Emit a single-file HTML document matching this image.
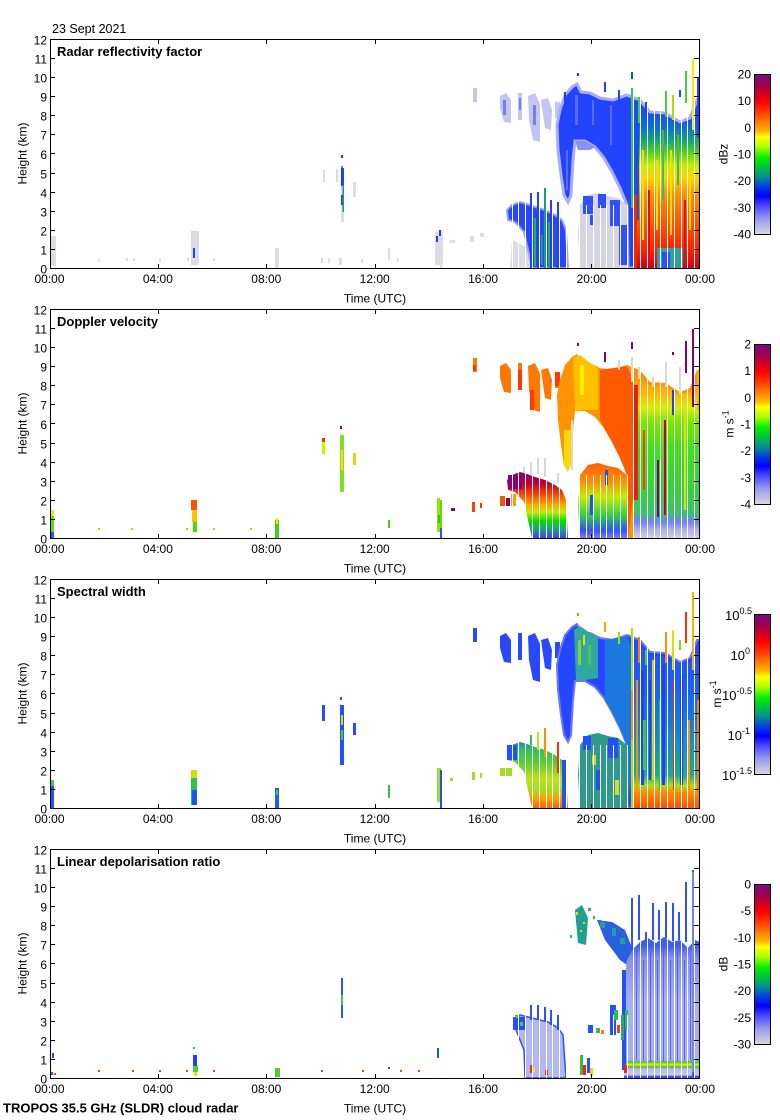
<!DOCTYPE html>
<html><head><meta charset="utf-8"><title>TROPOS cloud radar 23 Sept 2021</title>
<style>
html,body{margin:0;padding:0;background:#fff;width:780px;height:1120px;overflow:hidden}
svg{display:block}
text{font-family:"Liberation Sans",Arial,Helvetica,sans-serif;fill:#000}
.t{font-size:12px}
.b{font-size:13px;font-weight:bold}
</style></head><body>
<svg xmlns="http://www.w3.org/2000/svg" width="780" height="1120" viewBox="0 0 780 1120">
<defs>
<linearGradient id="cm" x1="0" y1="0" x2="0" y2="1">
<stop offset="0" stop-color="#7a0a80"/><stop offset="0.07" stop-color="#a00050"/><stop offset="0.12" stop-color="#d00020"/><stop offset="0.17" stop-color="#ff0000"/><stop offset="0.24" stop-color="#ff4000"/><stop offset="0.30" stop-color="#ff8000"/><stop offset="0.35" stop-color="#ffb000"/><stop offset="0.39" stop-color="#ffff00"/><stop offset="0.45" stop-color="#b0ff00"/><stop offset="0.52" stop-color="#00f000"/><stop offset="0.58" stop-color="#00c040"/><stop offset="0.64" stop-color="#009090"/><stop offset="0.70" stop-color="#0040e0"/><stop offset="0.76" stop-color="#0000ff"/><stop offset="0.82" stop-color="#4848ff"/><stop offset="0.90" stop-color="#9898f0"/><stop offset="1" stop-color="#d8d8e0"/>
</linearGradient>
<linearGradient id="g1" gradientUnits="userSpaceOnUse" x1="0" y1="105" x2="0" y2="268">
<stop offset="0" stop-color="#2040ff"/><stop offset="0.14" stop-color="#1070d0"/><stop offset="0.21" stop-color="#10a080"/><stop offset="0.29" stop-color="#50d020"/><stop offset="0.37" stop-color="#c0f000"/><stop offset="0.45" stop-color="#ffd000"/><stop offset="0.55" stop-color="#ff9000"/><stop offset="0.74" stop-color="#ff5000"/><stop offset="0.89" stop-color="#ff2000"/><stop offset="1" stop-color="#d00020"/>
</linearGradient>
<linearGradient id="g2" gradientUnits="userSpaceOnUse" x1="0" y1="105" x2="0" y2="268">
<stop offset="0" stop-color="#ff9000"/><stop offset="0.12" stop-color="#ffb800"/><stop offset="0.2" stop-color="#d8f000"/><stop offset="0.28" stop-color="#80e800"/><stop offset="0.45" stop-color="#40e020"/><stop offset="0.7" stop-color="#38d040"/><stop offset="0.85" stop-color="#40c070"/><stop offset="0.9" stop-color="#7080ff"/><stop offset="0.95" stop-color="#b0b0e8"/><stop offset="1" stop-color="#d0d0e0"/>
</linearGradient>
<linearGradient id="g2l" gradientUnits="userSpaceOnUse" x1="0" y1="200" x2="0" y2="268">
<stop offset="0" stop-color="#800080"/><stop offset="0.2" stop-color="#c00030"/><stop offset="0.35" stop-color="#ff4000"/><stop offset="0.5" stop-color="#ffa000"/><stop offset="0.62" stop-color="#c0f000"/><stop offset="0.75" stop-color="#00e000"/><stop offset="0.87" stop-color="#20a080"/><stop offset="1" stop-color="#4040ff"/>
</linearGradient>
<linearGradient id="g2m" gradientUnits="userSpaceOnUse" x1="0" y1="193" x2="0" y2="268">
<stop offset="0" stop-color="#ff6000"/><stop offset="0.25" stop-color="#ff9000"/><stop offset="0.45" stop-color="#c0f000"/><stop offset="0.7" stop-color="#30d040"/><stop offset="0.9" stop-color="#3050ff"/><stop offset="1" stop-color="#8080f0"/>
</linearGradient>
<linearGradient id="g3" gradientUnits="userSpaceOnUse" x1="0" y1="105" x2="0" y2="268">
<stop offset="0" stop-color="#2050ff"/><stop offset="0.25" stop-color="#1c60f0"/><stop offset="0.45" stop-color="#1478e0"/><stop offset="0.62" stop-color="#1890c0"/><stop offset="0.8" stop-color="#20a890"/><stop offset="0.86" stop-color="#a0e020"/><stop offset="0.9" stop-color="#ff9000"/><stop offset="1" stop-color="#ff5000"/>
</linearGradient>
<linearGradient id="g3l" gradientUnits="userSpaceOnUse" x1="0" y1="195" x2="0" y2="268">
<stop offset="0" stop-color="#2050ff"/><stop offset="0.2" stop-color="#30c060"/><stop offset="0.4" stop-color="#60d030"/><stop offset="0.6" stop-color="#c0e020"/><stop offset="0.75" stop-color="#a0e020"/><stop offset="0.87" stop-color="#ffa000"/><stop offset="1" stop-color="#ff6000"/>
</linearGradient>
<linearGradient id="g4" gradientUnits="userSpaceOnUse" x1="0" y1="118" x2="0" y2="268">
<stop offset="0" stop-color="#3050f0"/><stop offset="0.12" stop-color="#4060f0"/><stop offset="0.2" stop-color="#8890f0"/><stop offset="0.5" stop-color="#a8b0f2"/><stop offset="0.88" stop-color="#a8b0f0"/><stop offset="0.893" stop-color="#40c040"/><stop offset="0.91" stop-color="#f0f000"/><stop offset="0.927" stop-color="#40c040"/><stop offset="0.94" stop-color="#b8bcf0"/><stop offset="0.98" stop-color="#c8c8ee"/><stop offset="0.99" stop-color="#3050ff"/><stop offset="1" stop-color="#3050ff"/>
</linearGradient>
<clipPath id="clip"><rect x="51" y="40" width="648" height="228"/></clipPath>
<g id="strk">
<rect x="473" y="88" width="4" height="14"/>
<polygon points="500,96 506,93 511,100 511,123 504,122 500,108"/>
<rect x="518" y="93" width="4" height="27"/>
<polygon points="528,96 535,93 540,104 540,142 533,140 529,120"/>
<polygon points="541,100 548,98 552,110 551,130 545,128"/>
<rect x="555" y="102" width="5" height="16"/>
</g>
<polygon id="upc" points="557,125 560,110 565,95 572,87 577,84 581,92 590,93 600,98 613,100 627,95 640,100 650,112 665,113 680,122 690,118 697,100 700,100 700,268 628,268 627,205 620,188 612,172 604,158 595,147 585,141 575,141 573,160 571,195 568,202 564,195 561,175 558,150"/>
<polygon id="blk" points="633,112 640,106 650,115 665,117 680,124 690,122 697,112 700,112 700,268 633,268"/>
<polygon id="low1" points="507,210 512,205 520,202 527,204 535,207 545,210 555,215 562,220 566,230 568,268 532,268 528,250 524,232 515,222 508,220"/>
<polygon id="low2" points="580,205 588,195 598,193 608,196 618,198 627,205 628,268 580,268 578,235"/>
<polygon id="b4" points="624,175 627,150 632,140 640,132 648,128 656,133 664,127 672,132 680,130 688,138 695,130 700,132 700,268 624,268"/>
<polygon id="l4" points="513,212 520,205 528,207 540,210 548,212 558,218 563,225 566,268 525,268 524,240 518,225"/>
<g id="gaps" fill="#fff">
<rect x="498" y="185" width="1" height="83"/><rect x="505" y="185" width="1" height="83"/><rect x="512" y="185" width="1" height="83"/><rect x="518" y="185" width="1" height="83"/><rect x="525" y="185" width="1" height="83"/><rect x="532" y="205" width="1" height="63"/><rect x="539" y="205" width="1" height="63"/><rect x="546" y="205" width="1" height="63"/><rect x="552" y="205" width="1" height="63"/><rect x="559" y="205" width="1" height="63"/><rect x="566" y="205" width="1" height="63"/><rect x="573" y="205" width="1" height="63"/><rect x="579" y="205" width="1" height="63"/><rect x="586" y="205" width="1" height="63"/><rect x="593" y="205" width="1" height="63"/><rect x="600" y="205" width="1" height="63"/><rect x="606" y="205" width="1" height="63"/><rect x="613" y="205" width="1" height="63"/><rect x="620" y="205" width="1" height="63"/><rect x="627" y="205" width="1" height="63"/><rect x="633" y="40" width="1" height="228"/><rect x="640" y="40" width="1" height="228"/><rect x="647" y="40" width="1" height="228"/><rect x="654" y="40" width="1" height="228"/><rect x="660" y="40" width="1" height="228"/><rect x="667" y="40" width="1" height="228"/><rect x="674" y="40" width="1" height="228"/><rect x="681" y="40" width="1" height="228"/><rect x="687" y="40" width="1" height="228"/><rect x="694" y="40" width="1" height="228"/>
</g>
<g id="ax" fill="none" stroke="#000" stroke-width="1">
<rect x="50.5" y="39.5" width="649" height="229"/>
<path d="M51 249.5h4M51 230.5h4M51 211.5h4M51 192.5h4M51 173.5h4M51 153.5h4M51 134.5h4M51 115.5h4M51 96.5h4M51 77.5h4M51 58.5h4M699 249.5h-5M699 230.5h-5M699 211.5h-5M699 192.5h-5M699 173.5h-5M699 153.5h-5M699 134.5h-5M699 115.5h-5M699 96.5h-5M699 77.5h-5M699 58.5h-5M158.5 40v4M266.5 40v4M375.5 40v4M483.5 40v4M591.5 40v4M158.5 268v-4M266.5 268v-4M375.5 268v-4M483.5 268v-4M591.5 268v-4"/>
</g>
</defs>

<text class="t" x="52" y="33" style="font-size:12.5px">23 Sept 2021</text>

<!-- ================= PANEL 1: Reflectivity ================= -->
<g>
<g clip-path="url(#clip)">
<use href="#strk" fill="#c2c6f0"/>
<g fill="#7080f8"><rect x="503" y="100" width="3" height="15"/><rect x="533" y="105" width="3" height="20"/><rect x="519" y="98" width="2" height="12"/></g>
<use href="#upc" fill="#2244ff" stroke="#a8aef4" stroke-width="3"/>
<polygon points="575,141 585,141 595,147 590,150 578,150" fill="#8890f4"/>
<g fill="#5a6cfa"><rect x="575" y="95" width="3" height="30"/><rect x="592" y="100" width="2" height="25"/><rect x="610" y="105" width="2" height="40"/><rect x="566" y="150" width="2" height="40"/></g>
<use href="#blk" fill="url(#g1)"/>
<g fill="#f0e000"><rect x="642" y="150" width="2" height="90"/><rect x="656" y="160" width="2" height="70"/><rect x="670" y="150" width="2" height="85"/><rect x="689" y="170" width="2" height="60"/></g>
<g fill="#40c040"><rect x="662" y="130" width="2" height="70"/><rect x="677" y="135" width="2" height="50"/></g>
<g fill="#e01010"><rect x="648" y="190" width="2" height="70"/><rect x="684" y="200" width="2" height="60"/></g>
<rect x="633" y="110" width="6" height="110" fill="#1a50e8"/>
<rect x="633" y="195" width="4" height="73" fill="#e03010"/>
<rect x="697" y="77" width="3" height="60" fill="#2244ff"/>
<rect x="657" y="248" width="26" height="20" fill="#30a0a0"/>
<rect x="662" y="252" width="8" height="16" fill="#2a50ff"/>
<use href="#low2" fill="#d6d6e0"/>
<g fill="#3050ff"><rect x="583" y="196" width="10" height="18"/><rect x="598" y="194" width="8" height="14"/><rect x="610" y="200" width="10" height="26"/><rect x="590" y="215" width="4" height="10"/><rect x="619" y="225" width="8" height="40"/></g>
<polygon points="512,240 528,248 531,268 510,268" fill="#dcdce4"/>
<use href="#low1" fill="#2646ff" stroke="#9aa2f4" stroke-width="2"/>
<g fill="#20b060"><rect x="534" y="218" width="2" height="48"/><rect x="548" y="222" width="2" height="46"/><rect x="541" y="235" width="1.5" height="30"/></g>
<g fill="#dcdce4"><rect x="51" y="236" width="5" height="30"/><rect x="191" y="231" width="8" height="34"/><rect x="275" y="248" width="4" height="20"/><rect x="323" y="170" width="2" height="12"/><rect x="336" y="169" width="2" height="13"/><rect x="341" y="185" width="3" height="37"/><rect x="353" y="182" width="3" height="15"/><rect x="388" y="248" width="2" height="12"/><rect x="397" y="258" width="2" height="4"/><rect x="435" y="232" width="8" height="33"/><rect x="450" y="240" width="5" height="3"/><rect x="440" y="230" width="2" height="38"/><rect x="470" y="236" width="4" height="6"/><rect x="480" y="233" width="4" height="4"/><rect x="98" y="259" width="2" height="3"/><rect x="126" y="258" width="2" height="3"/><rect x="133" y="258" width="2" height="3"/><rect x="159" y="259" width="2" height="3"/><rect x="187" y="258" width="2" height="3"/><rect x="213" y="258" width="2" height="3"/><rect x="321" y="258" width="2" height="5"/><rect x="328" y="258" width="2" height="5"/><rect x="339" y="258" width="3" height="7"/><rect x="361" y="259" width="2" height="4"/></g>
<g fill="#2040ff"><rect x="193" y="248" width="2" height="10"/><rect x="341" y="155" width="2" height="3"/><rect x="341" y="168" width="3" height="18"/><rect x="341" y="195" width="2" height="10"/><rect x="436" y="236" width="2" height="6"/><rect x="439" y="230" width="2" height="6"/></g>
<rect x="342.5" y="185" width="1.5" height="27" fill="#10a080"/>
<rect x="341" y="166" width="2" height="2" fill="#20c040"/>
<!-- spikes -->
<rect x="631" y="88" width="2" height="120" fill="#30c850"/><rect x="631" y="72" width="2" height="7" fill="#2040ff"/>
<rect x="638" y="97" width="2" height="26" fill="#40d040"/>
<rect x="645" y="102" width="2" height="15" fill="#2040ff"/>
<rect x="665" y="91" width="2" height="26" fill="#40d040"/>
<rect x="672" y="95" width="2" height="25" fill="#b0e000"/>
<rect x="679" y="90" width="2" height="7" fill="#2040ff"/>
<rect x="685" y="71" width="2" height="32" fill="#40d040"/>
<rect x="692" y="59" width="2" height="71" fill="#f0f000"/>
<g fill="#2040ff"><rect x="530" y="193" width="2" height="75"/><rect x="537" y="192" width="2" height="76"/><rect x="550" y="200" width="2" height="68"/><rect x="557" y="202" width="2" height="66"/><rect x="564" y="92" width="2" height="15"/><rect x="604" y="82" width="2" height="10"/><rect x="618" y="90" width="2" height="10"/><rect x="577" y="73" width="2" height="3"/></g>
<rect x="544" y="188" width="2" height="80" fill="#10a080"/>
<use href="#gaps"/>
</g>
<use href="#ax"/>
</g>
<text class="b" x="57" y="56">Radar reflectivity factor</text>
<g class="t" text-anchor="end">
<text x="47" y="273.5">0</text><text x="47" y="254.5">1</text><text x="47" y="235.5">2</text><text x="47" y="216.5">3</text><text x="47" y="197.5">4</text><text x="47" y="178.5">5</text><text x="47" y="159">6</text><text x="47" y="139.5">7</text><text x="47" y="120.5">8</text><text x="47" y="101.5">9</text><text x="47" y="82.5">10</text><text x="47" y="63.5">11</text><text x="47" y="44.5">12</text>
</g>
<g class="t" text-anchor="middle">
<text x="49.5" y="283">00:00</text><text x="157.9" y="283">04:00</text><text x="266.3" y="283">08:00</text><text x="374.7" y="283">12:00</text><text x="483.1" y="283">16:00</text><text x="591.6" y="283">20:00</text><text x="700" y="283">00:00</text>
<text x="375" y="302.5">Time (UTC)</text>
<text transform="translate(26.5,153.5) rotate(-90)">Height (km)</text>
<text transform="translate(727.5,154) rotate(-90)">dBz</text>
</g>
<rect x="754.5" y="74.5" width="16" height="160" fill="url(#cm)" stroke="#000"/>
<g class="t" text-anchor="end">
<text x="751" y="78.5">20</text><text x="751" y="105.2">10</text><text x="751" y="131.8">0</text><text x="751" y="158.5">-10</text><text x="751" y="185.2">-20</text><text x="751" y="211.8">-30</text><text x="751" y="238.5">-40</text>
</g>

<!-- ================= PANEL 2: Doppler ================= -->
<g transform="translate(0,270)">
<g clip-path="url(#clip)">
<use href="#strk" fill="#ff7800"/>
<g fill="#ff3a00"><rect x="518" y="100" width="4" height="20"/><rect x="530" y="120" width="4" height="20"/><rect x="555" y="102" width="5" height="14"/><rect x="473" y="95" width="3" height="6"/></g>
<use href="#upc" fill="#ff9400"/>
<polygon points="573,88 580,85 590,93 598,98 598,140 585,140 575,141" fill="#ffc000"/>
<rect x="580" y="95" width="4" height="30" fill="#f0f000"/>
<polygon points="564,160 572,160 571,195 568,202 564,195" fill="#ffd800"/>
<polygon points="600,100 627,96 633,110 633,230 628,268 627,205 620,188 612,172 604,158 600,150" fill="#ff5a00"/>
<use href="#blk" fill="url(#g2)"/>
<rect x="633" y="115" width="5" height="115" fill="#e02020"/>
<rect x="657" y="190" width="2" height="57" fill="#800080"/>
<rect x="664" y="150" width="2" height="95" fill="#c00030"/>
<rect x="672" y="120" width="2" height="25" fill="#2040ff"/>
<rect x="643" y="160" width="2" height="60" fill="#ff4000"/>
<rect x="684" y="140" width="2" height="100" fill="#c8f000"/>
<rect x="697" y="100" width="3" height="40" fill="#ffb000"/>
<use href="#low2" fill="url(#g2m)"/>
<g fill="#2050ff"><rect x="590" y="225" width="4" height="20"/><rect x="605" y="200" width="3" height="15"/></g>
<use href="#low1" fill="url(#g2l)"/>
<rect x="508" y="205" width="14" height="14" fill="#8a0070"/>
<rect x="500" y="226" width="6" height="10" fill="#ff5000"/><rect x="506" y="228" width="4" height="8" fill="#900060"/><rect x="511" y="224" width="5" height="12" fill="#ffa000"/>
<g fill="#d8d8d8"><rect x="631" y="87" width="2" height="25"/><rect x="618" y="90" width="2" height="10"/><rect x="638" y="97" width="2" height="12"/><rect x="652" y="107" width="2" height="10"/><rect x="665" y="92" width="2" height="25"/><rect x="679" y="97" width="2" height="27"/><rect x="571" y="150" width="2" height="50"/><rect x="523" y="197" width="2" height="6"/><rect x="530" y="192" width="2" height="13"/><rect x="537" y="188" width="2" height="16"/><rect x="544" y="188" width="2" height="19"/><rect x="557" y="203" width="2" height="10"/></g>
<g fill="#800080"><rect x="631" y="72" width="2" height="7"/><rect x="604" y="82" width="2" height="10"/><rect x="577" y="73" width="2" height="3"/><rect x="685" y="71" width="2" height="32"/><rect x="692" y="59" width="2" height="78"/><rect x="672" y="82" width="2" height="3"/></g>
<rect x="51" y="240" width="3" height="28" fill="#60e000"/><rect x="51" y="240" width="3" height="6" fill="#ffe000"/><rect x="51" y="262" width="3" height="6" fill="#3050ff"/>
<rect x="191" y="230" width="6" height="10" fill="#ff5000"/><rect x="192" y="240" width="5" height="12" fill="#ffc000"/><rect x="193" y="252" width="4" height="10" fill="#40e000"/>
<rect x="275" y="250" width="4" height="18" fill="#40d020"/><rect x="276" y="248" width="2" height="6" fill="#ffe000"/>
<rect x="340" y="156" width="2" height="3" fill="#a00060"/><rect x="340" y="165" width="4" height="57" fill="#80e020"/><rect x="341" y="180" width="2" height="20" fill="#ffe000"/>
<rect x="322" y="168" width="3" height="16" fill="#d0f000"/><rect x="322" y="168" width="3" height="4" fill="#ff3000"/>
<rect x="353" y="183" width="3" height="12" fill="#ffd000"/>
<rect x="388" y="250" width="2" height="8" fill="#40d020"/>
<rect x="437" y="228" width="3" height="34" fill="#a0e000"/><rect x="438" y="245" width="2" height="8" fill="#30c040"/>
<rect x="440" y="230" width="2" height="38" fill="#60e000"/><rect x="440" y="258" width="2" height="10" fill="#3050ff"/>
<rect x="451" y="238" width="4" height="3" fill="#800080"/>
<rect x="472" y="232" width="3" height="10" fill="#ff4000"/><rect x="480" y="233" width="2" height="5" fill="#ff3000"/>
<g fill="#ffb000"><rect x="98" y="258" width="2" height="2"/><rect x="131" y="258" width="2" height="2"/><rect x="186" y="258" width="2" height="2"/><rect x="213" y="258" width="2" height="2"/><rect x="250" y="258" width="2" height="2"/></g>
<use href="#gaps"/>
</g>
<use href="#ax"/>
</g>
<text class="b" x="57" y="326">Doppler velocity</text>
<g class="t" text-anchor="end">
<text x="47" y="543.5">0</text><text x="47" y="524.5">1</text><text x="47" y="505.5">2</text><text x="47" y="486.5">3</text><text x="47" y="467.5">4</text><text x="47" y="448.5">5</text><text x="47" y="429">6</text><text x="47" y="409.5">7</text><text x="47" y="390.5">8</text><text x="47" y="371.5">9</text><text x="47" y="352.5">10</text><text x="47" y="333.5">11</text><text x="47" y="314.5">12</text>
</g>
<g class="t" text-anchor="middle">
<text x="49.5" y="553">00:00</text><text x="157.9" y="553">04:00</text><text x="266.3" y="553">08:00</text><text x="374.7" y="553">12:00</text><text x="483.1" y="553">16:00</text><text x="591.6" y="553">20:00</text><text x="700" y="553">00:00</text>
<text x="375" y="572.5">Time (UTC)</text>
<text transform="translate(26.5,423.5) rotate(-90)">Height (km)</text>
<text transform="translate(733.5,424) rotate(-90)">m s<tspan font-size="9" dy="-5">-1</tspan></text>
</g>
<rect x="754.5" y="344.5" width="16" height="160" fill="url(#cm)" stroke="#000"/>
<g class="t" text-anchor="end">
<text x="751" y="348.5">2</text><text x="751" y="375.2">1</text><text x="751" y="401.8">0</text><text x="751" y="428.5">-1</text><text x="751" y="455.2">-2</text><text x="751" y="481.8">-3</text><text x="751" y="508.5">-4</text>
</g>

<!-- ================= PANEL 3: Spectral width ================= -->
<g transform="translate(0,540)">
<g clip-path="url(#clip)">
<use href="#strk" fill="#2a48ff"/>
<use href="#upc" fill="#2448ff" stroke="#6a78f8" stroke-width="2"/>
<polygon points="574,90 580,86 590,93 598,98 598,138 585,140 576,141" fill="#30a8a0"/>
<rect x="578" y="100" width="3" height="25" fill="#80d040"/><rect x="588" y="105" width="3" height="20" fill="#50c050"/><rect x="583" y="95" width="2" height="10" fill="#e0e000"/>
<polygon points="605,100 627,96 632,110 632,230 628,268 627,205 620,188 612,172 605,160" fill="#1a78e0"/>
<use href="#blk" fill="url(#g3)"/>
<g fill="#2040ff"><rect x="641" y="130" width="3" height="115"/><rect x="649" y="140" width="2" height="100"/><rect x="662" y="125" width="3" height="120"/><rect x="680" y="135" width="3" height="110"/></g>
<rect x="636" y="140" width="2" height="110" fill="#ff9000"/>
<rect x="652" y="120" width="2" height="120" fill="#e0d000"/>
<rect x="659" y="160" width="2" height="90" fill="#30c040"/>
<rect x="673" y="140" width="2" height="110" fill="#ff3000"/>
<rect x="688" y="180" width="2" height="70" fill="#ff9000"/>
<rect x="697" y="160" width="2" height="90" fill="#ff8000"/>
<rect x="643" y="180" width="3" height="50" fill="#40c060"/>
<use href="#low2" fill="#2f9a8a"/>
<g fill="#2050ff"><rect x="583" y="196" width="8" height="14"/><rect x="608" y="198" width="10" height="20"/><rect x="596" y="230" width="5" height="20"/></g>
<g fill="#d0e020"><rect x="592" y="215" width="4" height="10"/><rect x="615" y="240" width="4" height="15"/></g>
<use href="#low1" fill="url(#g3l)"/>
<rect x="507" y="205" width="10" height="15" fill="#2050ff"/><rect x="562" y="220" width="5" height="48" fill="#2050ff"/>
<rect x="631" y="88" width="2" height="180" fill="#b0e000"/><rect x="631" y="150" width="2" height="50" fill="#ff9000"/>
<rect x="692" y="52" width="2" height="78" fill="#ffb000"/>
<rect x="685" y="72" width="2" height="31" fill="#ff3000"/>
<rect x="665" y="92" width="2" height="31" fill="#ff9000"/>
<rect x="672" y="90" width="2" height="40" fill="#e0e000"/>
<rect x="679" y="100" width="2" height="10" fill="#80e000"/>
<rect x="638" y="97" width="2" height="26" fill="#ff8000"/>
<rect x="645" y="110" width="2" height="15" fill="#40d040"/>
<rect x="618" y="92" width="2" height="12" fill="#a0e000"/>
<rect x="604" y="82" width="2" height="10" fill="#ffa000"/>
<rect x="577" y="73" width="2" height="3" fill="#ff8000"/>
<rect x="537" y="192" width="2" height="18" fill="#c0e020"/><rect x="544" y="188" width="2" height="29" fill="#ff9000"/><rect x="557" y="202" width="2" height="31" fill="#ff3000"/><rect x="530" y="195" width="2" height="10" fill="#40c040"/>
<rect x="51" y="240" width="3" height="28" fill="#2050ff"/><rect x="51" y="240" width="3" height="6" fill="#40d040"/>
<rect x="191" y="230" width="6" height="35" fill="#30c050"/><rect x="191" y="230" width="6" height="8" fill="#d0e000"/><rect x="192" y="250" width="5" height="15" fill="#2050ff"/>
<rect x="275" y="248" width="4" height="20" fill="#2060f0"/><rect x="276" y="250" width="2" height="5" fill="#40d040"/>
<rect x="340" y="157" width="2" height="3" fill="#2050ff"/><rect x="340" y="165" width="4" height="60" fill="#2050ff"/><rect x="341" y="175" width="2" height="10" fill="#e0e000"/><rect x="341" y="190" width="2" height="10" fill="#40d040"/>
<rect x="322" y="165" width="3" height="16" fill="#2050ff"/><rect x="353" y="183" width="3" height="12" fill="#2050ff"/>
<rect x="388" y="245" width="2" height="13" fill="#30c050"/>
<rect x="437" y="228" width="4" height="34" fill="#a0e020"/><rect x="440" y="230" width="2" height="38" fill="#2050ff"/>
<g fill="#a0e020"><rect x="450" y="238" width="3" height="3"/><rect x="472" y="232" width="3" height="8"/><rect x="480" y="233" width="2" height="5"/><rect x="500" y="228" width="12" height="8"/></g>
<use href="#gaps"/>
</g>
<use href="#ax"/>
</g>
<text class="b" x="57" y="596">Spectral width</text>
<g class="t" text-anchor="end">
<text x="47" y="813.5">0</text><text x="47" y="794.5">1</text><text x="47" y="775.5">2</text><text x="47" y="756.5">3</text><text x="47" y="737.5">4</text><text x="47" y="718.5">5</text><text x="47" y="699">6</text><text x="47" y="679.5">7</text><text x="47" y="660.5">8</text><text x="47" y="641.5">9</text><text x="47" y="622.5">10</text><text x="47" y="603.5">11</text><text x="47" y="584.5">12</text>
</g>
<g class="t" text-anchor="middle">
<text x="49.5" y="823">00:00</text><text x="157.9" y="823">04:00</text><text x="266.3" y="823">08:00</text><text x="374.7" y="823">12:00</text><text x="483.1" y="823">16:00</text><text x="591.6" y="823">20:00</text><text x="700" y="823">00:00</text>
<text x="375" y="842.5">Time (UTC)</text>
<text transform="translate(26.5,693.5) rotate(-90)">Height (km)</text>
<text transform="translate(721,694) rotate(-90)">m s<tspan font-size="9" dy="-5">-1</tspan></text>
</g>
<rect x="754.5" y="614.5" width="16" height="160" fill="url(#cm)" stroke="#000"/>
<g class="t" text-anchor="end" style="font-size:13px">
<text x="752" y="620">10<tspan font-size="9" dy="-6">0.5</tspan></text>
<text x="750" y="660">10<tspan font-size="9" dy="-6">0</tspan></text>
<text x="752" y="700">10<tspan font-size="9" dy="-6">-0.5</tspan></text>
<text x="750" y="740">10<tspan font-size="9" dy="-6">-1</tspan></text>
<text x="752" y="780">10<tspan font-size="9" dy="-6">-1.5</tspan></text>
</g>

<!-- ================= PANEL 4: LDR ================= -->
<g transform="translate(0,810)">
<g clip-path="url(#clip)">
<polygon points="575,100 582,95 588,108 586,135 578,133" fill="#20a090"/>
<g fill="#e0e000"><rect x="576" y="102" width="2" height="3"/><rect x="583" y="112" width="2" height="2"/><rect x="580" y="120" width="2" height="2"/></g>
<g fill="#30c050"><rect x="588" y="98" width="3" height="3"/><rect x="593" y="106" width="2" height="3"/><rect x="598" y="110" width="3" height="2"/><rect x="570" y="125" width="2" height="3"/></g>
<polygon points="597,110 612,112 625,120 633,140 630,157 620,150 605,130" fill="#2860e0"/>
<g fill="#20a0a0"><rect x="600" y="112" width="5" height="6"/><rect x="612" y="118" width="4" height="8"/><rect x="620" y="128" width="5" height="6"/></g>
<use href="#b4" fill="url(#g4)"/>
<g fill="#5068f0"><rect x="636" y="140" width="1" height="110"/><rect x="643" y="150" width="1" height="100"/><rect x="650" y="140" width="1" height="112"/><rect x="657" y="150" width="1" height="100"/><rect x="663" y="140" width="1" height="112"/><rect x="670" y="150" width="1" height="100"/><rect x="677" y="140" width="1" height="112"/><rect x="684" y="150" width="1" height="100"/><rect x="690" y="145" width="1" height="105"/></g>
<g fill="#3050ff"><rect x="631" y="88" width="2" height="52"/><rect x="638" y="85" width="2" height="45"/><rect x="645" y="122" width="2" height="10"/><rect x="652" y="93" width="2" height="37"/><rect x="658" y="100" width="2" height="30"/><rect x="665" y="92" width="2" height="36"/><rect x="672" y="93" width="2" height="38"/><rect x="678" y="102" width="2" height="28"/><rect x="685" y="72" width="2" height="60"/><rect x="692" y="60" width="2" height="208"/></g>
<rect x="692.5" y="62" width="1" height="200" fill="#b0b8f0"/>
<rect x="622" y="160" width="4" height="100" fill="#2050ff"/><rect x="625" y="200" width="3" height="20" fill="#30c040"/><rect x="624" y="255" width="3" height="8" fill="#ff2000"/>
<use href="#l4" fill="#b4b8f2" stroke="#3050ff" stroke-width="1.5"/>
<rect x="513" y="207" width="12" height="13" fill="#2050ff"/><rect x="515" y="205" width="3" height="3" fill="#40d040"/><rect x="520" y="212" width="3" height="4" fill="#40d040"/>
<g fill="#3050ff"><rect x="530" y="195" width="2" height="15"/><rect x="537" y="195" width="2" height="15"/><rect x="544" y="197" width="2" height="15"/><rect x="550" y="200" width="2" height="15"/><rect x="557" y="205" width="2" height="15"/></g>
<rect x="530" y="255" width="3" height="8" fill="#ff3000"/><rect x="533" y="258" width="2" height="4" fill="#ffe000"/><rect x="545" y="260" width="3" height="5" fill="#ff3000"/>
<rect x="580" y="245" width="3" height="20" fill="#30c040"/><rect x="583" y="255" width="3" height="10" fill="#ff2000"/><rect x="587" y="248" width="3" height="15" fill="#2050ff"/><rect x="590" y="258" width="3" height="8" fill="#ffd000"/>
<rect x="588" y="215" width="6" height="8" fill="#2050ff"/><rect x="596" y="218" width="4" height="5" fill="#30c050"/><rect x="600" y="220" width="4" height="4" fill="#ff8000"/>
<rect x="610" y="195" width="6" height="30" fill="#2050ff"/><rect x="614" y="200" width="4" height="10" fill="#30c040"/><rect x="617" y="215" width="3" height="8" fill="#ff4000"/><rect x="620" y="205" width="4" height="25" fill="#30a080"/>
<rect x="52" y="243" width="2" height="5" fill="#2050ff"/><rect x="51" y="262" width="2" height="3" fill="#2050ff"/><rect x="54" y="263" width="2" height="2" fill="#ff4000"/>
<rect x="193" y="245" width="4" height="11" fill="#2040ff"/><rect x="193" y="256" width="5" height="6" fill="#40d040"/><rect x="194" y="262" width="3" height="4" fill="#f0e000"/><rect x="193" y="237" width="2" height="2" fill="#40d040"/>
<rect x="275" y="258" width="5" height="9" fill="#40d040"/><rect x="278" y="260" width="2" height="3" fill="#ff8000"/>
<rect x="341" y="168" width="2" height="40" fill="#3050ff"/><rect x="341" y="185" width="2" height="10" fill="#40d040"/>
<rect x="388" y="257" width="2" height="2" fill="#2050ff"/>
<rect x="437" y="238" width="2" height="10" fill="#2050ff"/>
<g fill="#ff4000"><rect x="98" y="260" width="2" height="2"/><rect x="132" y="260" width="2" height="2"/><rect x="159" y="260" width="2" height="2"/><rect x="186" y="260" width="2" height="2"/><rect x="213" y="260" width="2" height="2"/><rect x="321" y="260" width="2" height="2"/><rect x="362" y="260" width="2" height="2"/><rect x="400" y="260" width="2" height="2"/><rect x="418" y="260" width="2" height="2"/></g>
<use href="#gaps"/>
</g>
<use href="#ax"/>
</g>
<text class="b" x="57" y="866">Linear depolarisation ratio</text>
<g class="t" text-anchor="end">
<text x="47" y="1083.5">0</text><text x="47" y="1064.5">1</text><text x="47" y="1045.5">2</text><text x="47" y="1026.5">3</text><text x="47" y="1007.5">4</text><text x="47" y="988.5">5</text><text x="47" y="969">6</text><text x="47" y="949.5">7</text><text x="47" y="930.5">8</text><text x="47" y="911.5">9</text><text x="47" y="892.5">10</text><text x="47" y="873.5">11</text><text x="47" y="854.5">12</text>
</g>
<g class="t" text-anchor="middle">
<text x="49.5" y="1093">00:00</text><text x="157.9" y="1093">04:00</text><text x="266.3" y="1093">08:00</text><text x="374.7" y="1093">12:00</text><text x="483.1" y="1093">16:00</text><text x="591.6" y="1093">20:00</text><text x="700" y="1093">00:00</text>
<text x="375" y="1112.5">Time (UTC)</text>
<text transform="translate(26.5,963.5) rotate(-90)">Height (km)</text>
<text transform="translate(727.5,964) rotate(-90)">dB</text>
</g>
<rect x="754.5" y="884.5" width="16" height="160" fill="url(#cm)" stroke="#000"/>
<g class="t" text-anchor="end">
<text x="751" y="888.5">0</text><text x="751" y="915.2">-5</text><text x="751" y="941.8">-10</text><text x="751" y="968.5">-15</text><text x="751" y="995.2">-20</text><text x="751" y="1021.8">-25</text><text x="751" y="1048.5">-30</text>
</g>

<text class="b" x="3" y="1112.5">TROPOS 35.5 GHz (SLDR) cloud radar</text>
</svg>
</body></html>
